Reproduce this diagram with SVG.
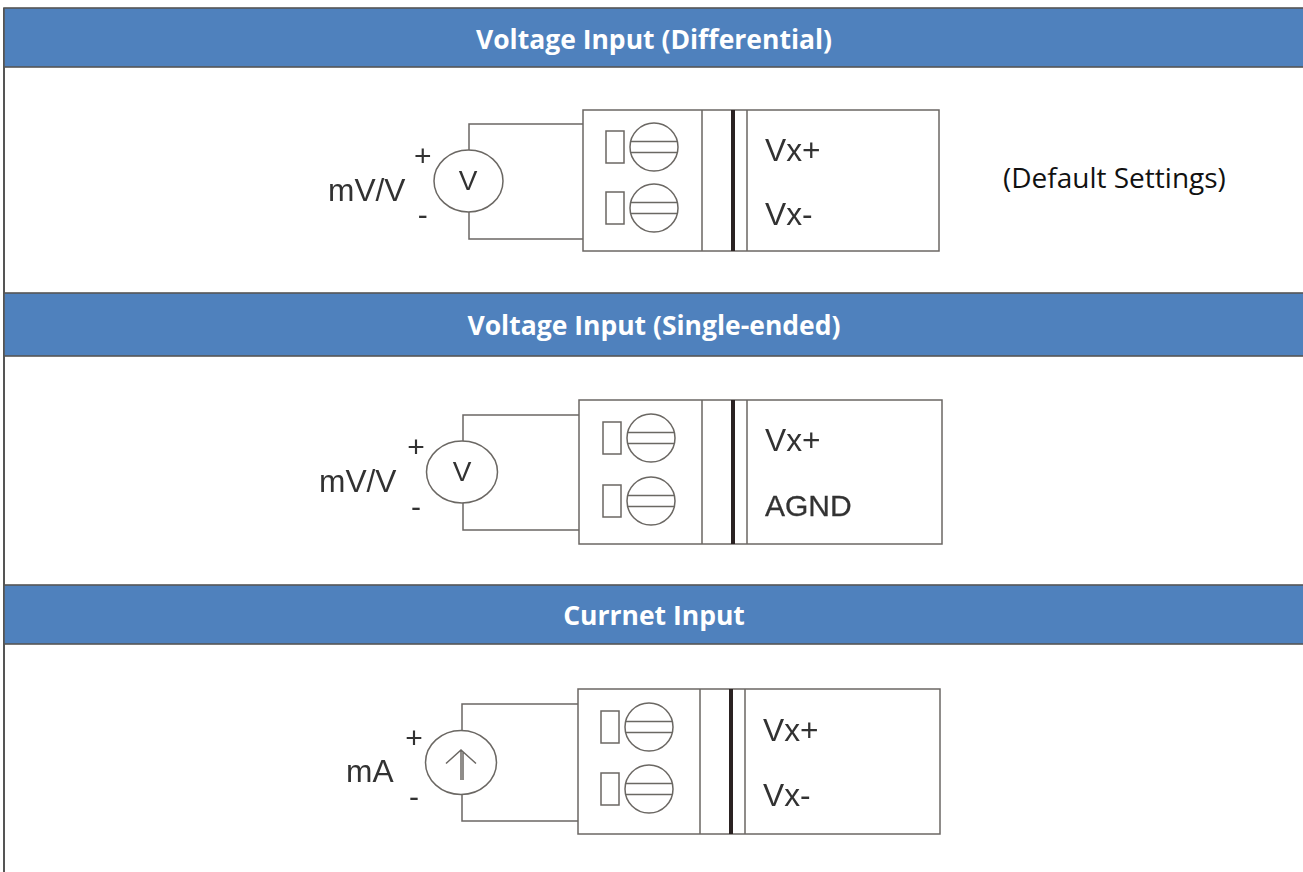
<svg xmlns="http://www.w3.org/2000/svg" width="1303" height="872" viewBox="0 0 1303 872">
<style>
.hd{fill:#4f81bd;stroke:#555;stroke-width:1.6}
.ht{font-family:"Open Sans","Noto Sans",sans-serif;font-weight:700;font-size:26.500px;fill:#fff;text-anchor:middle}
.note{font-family:"Open Sans","Noto Sans",sans-serif;font-size:28px;fill:#111}
.l{font-family:"Liberation Sans",Arial,sans-serif;font-size:31.700px;fill:#333}
.a{font-size:30px;font-weight:400;stroke:#333;stroke-width:.3}
.v{font-family:"Liberation Sans",Arial,sans-serif;font-size:28px;fill:#333;text-anchor:middle}
.s{font-family:"Liberation Sans",Arial,sans-serif;font-size:30px;fill:#333;text-anchor:middle}
.w{fill:none;stroke:#6b6763;stroke-width:1.5}
.b{fill:#fff;stroke:#6b6763;stroke-width:1.5}
.k{stroke:#2b2322;stroke-width:4;fill:none}
</style>
<defs>
<filter id="soft" x="-5%" y="-5%" width="110%" height="110%"><feGaussianBlur stdDeviation="0.5"/></filter>
<g id="term">
<rect class="b" x="0" y="0" width="18" height="32"/>
<circle class="b" cx="48" cy="16" r="24"/>
<path class="w" d="M25 10.500H71M25 21.500H71"/>
</g>
</defs>
<rect width="1303" height="872" fill="#fff"/>
<g id="frame"><path d="M4 8V872" stroke="#555" stroke-width="2" fill="none"/></g>
<g id="header-1"><rect class="hd" x="4" y="8" width="1300" height="59"/><text class="ht" x="654" y="49">Voltage Input (Differential)</text></g>
<g id="header-2"><rect class="hd" x="4" y="293" width="1300" height="63"/><text class="ht" x="654" y="334.500">Voltage Input (Single-ended)</text></g>
<g id="header-3"><rect class="hd" x="4" y="585" width="1300" height="59"/><text class="ht" x="654" y="624.500">Currnet Input</text></g>
<g id="connectors" filter="url(#soft)">
<path class="w" d="M583 124H469V150M469 212V239H583"/>
<path class="w" d="M579 415H463V441M463 503V530H579"/>
<path class="w" d="M578 704H462V731M462 794V821H578"/>
</g>
<g id="source-1" filter="url(#soft)">
<ellipse class="b" cx="468.500" cy="181" rx="34.500" ry="31"/>
<text class="v" x="468" y="190">V</text>
<text class="l" x="328" y="201">mV/V</text>
<text class="s" x="422.700" y="166">+</text>
<text class="s" x="422.700" y="225">-</text>
</g>
<g id="terminal-1" filter="url(#soft)">
<rect class="b" x="583" y="110" width="356" height="141"/>
<path class="w" d="M702 110V251M747 110V251"/><path class="k" d="M733 110V251"/>
<use href="#term" x="606" y="131"/><use href="#term" x="606" y="192"/>
<text class="l" x="765" y="161">Vx+</text><text class="l" x="765" y="225">Vx-</text>
</g>
<g id="note"><text class="note" x="1003" y="188">(Default Settings)</text></g>
<g id="source-2" filter="url(#soft)">
<ellipse class="b" cx="462" cy="472" rx="35.500" ry="31"/>
<text class="v" x="462" y="481">V</text>
<text class="l" x="319" y="492">mV/V</text>
<text class="s" x="416" y="456.500">+</text>
<text class="s" x="416" y="517">-</text>
</g>
<g id="terminal-2" filter="url(#soft)">
<rect class="b" x="579" y="400" width="363" height="144"/>
<path class="w" d="M702 400V544M747 400V544"/><path class="k" d="M733 400V544"/>
<use href="#term" x="603" y="422"/><use href="#term" x="603" y="485"/>
<text class="l" x="765" y="451">Vx+</text><text class="l a" x="765" y="516">AGND</text>
</g>
<g id="source-3" filter="url(#soft)">
<ellipse class="b" cx="461" cy="762.500" rx="35.500" ry="32"/>
<path class="w" d="M461 780V750M446 763.500L461 750L476 763.500M463 780V752"/>
<text class="l" x="346" y="782">mA</text>
<text class="s" x="414" y="747.500">+</text>
<text class="s" x="414" y="807">-</text>
</g>
<g id="terminal-3" filter="url(#soft)">
<rect class="b" x="578" y="689" width="362" height="145"/>
<path class="w" d="M700 689V834M745 689V834"/><path class="k" d="M731 689V834"/>
<use href="#term" x="601" y="711"/><use href="#term" x="601" y="773"/>
<text class="l" x="763" y="741">Vx+</text><text class="l" x="763" y="806">Vx-</text>
</g>
</svg>
